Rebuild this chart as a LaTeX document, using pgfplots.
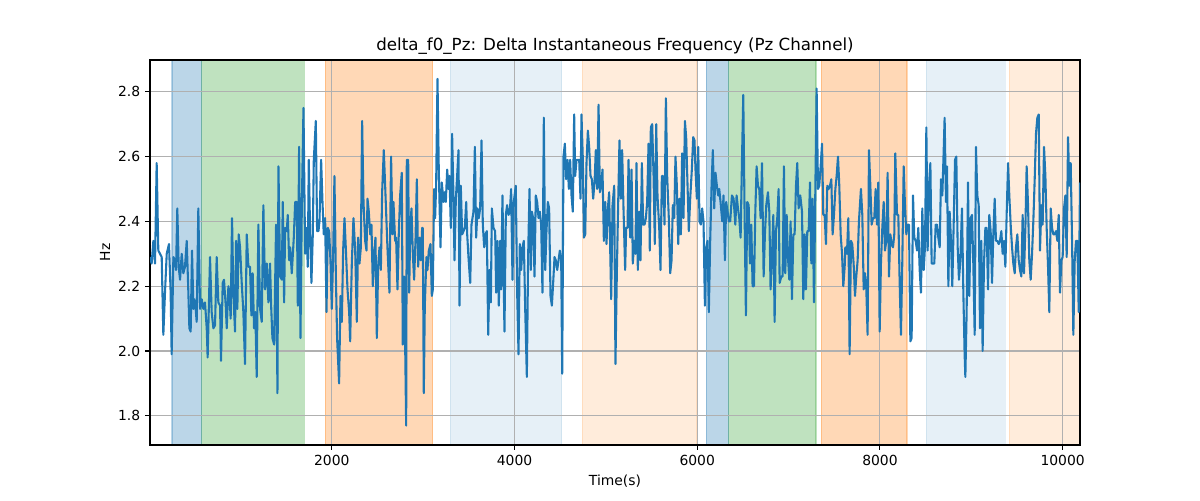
\documentclass[border=0pt]{standalone}
\usepackage{fontspec}
\setmainfont{DejaVu Sans}
\usepackage{pgfplots}
\pgfplotsset{compat=1.18}
\definecolor{tabblue}{HTML}{1F77B4}
\definecolor{tabgreen}{HTML}{2CA02C}
\definecolor{taborange}{HTML}{FF7F0E}
\definecolor{gridgray}{HTML}{B0B0B0}
\begin{document}
\begin{tikzpicture}
\begin{axis}[
  set layers,
  scale only axis,
  width=669.6pt, height=277.2pt,
  xmin=10, xmax=10190, ymin=1.71, ymax=2.898,
  xtick={2000,4000,6000,8000,10000},
  ytick={1.8,2.0,2.2,2.4,2.6,2.8},
  scaled x ticks=false, scaled y ticks=false,
  /pgf/number format/assume math mode=true,
  x tick label style={/pgf/number format/1000 sep={}, /pgf/number format/fixed, /pgf/number format/precision=0},
  y tick label style={/pgf/number format/fixed,/pgf/number format/fixed zerofill,/pgf/number format/precision=1},
  ticklabel style={font=\fontsize{10}{12}\selectfont},
  tick align=outside, tick pos=left,
  major tick length=3.5pt,
  tick style={black, line width=0.8pt},
  axis line style={line width=0.8pt},
  grid=major,
  major grid style={gridgray, line width=0.8pt},
  every axis title shift=0pt,
  title={delta\_f0\_Pz: Delta Instantaneous Frequency (Pz Channel)},
  title style={font=\fontsize{12}{14}\selectfont, at={(axis description cs:0.5,1.0364)}, anchor=center},
  xlabel={Time(s)},
  xlabel style={font=\fontsize{10}{12}\selectfont, at={(axis description cs:0.5,-0.0934)}, anchor=center},
  ylabel={Hz},
  ylabel style={font=\fontsize{10}{12}\selectfont, at={(axis description cs:-0.0484,0.5)}, anchor=center},
]
% shaded spans
\addplot[on layer=axis background, fill=tabblue, fill opacity=0.3, draw=tabblue, draw opacity=0.3, line width=0.8pt] coordinates {(251,1.71) (251,2.898) (576,2.898) (576,1.71)} -- cycle;
\addplot[on layer=axis background, fill=tabgreen, fill opacity=0.3, draw=tabgreen, draw opacity=0.3, line width=0.8pt] coordinates {(576,1.71) (576,2.898) (1700,2.898) (1700,1.71)} -- cycle;
\addplot[on layer=axis background, fill=taborange, fill opacity=0.3, draw=taborange, draw opacity=0.3, line width=0.8pt] coordinates {(1927,1.71) (1927,2.898) (3106,2.898) (3106,1.71)} -- cycle;
\addplot[on layer=axis background, fill=tabblue, fill opacity=0.11, draw=tabblue, draw opacity=0.11, line width=0.8pt] coordinates {(3295,1.71) (3295,2.898) (4518,2.898) (4518,1.71)} -- cycle;
\addplot[on layer=axis background, fill=taborange, fill opacity=0.15, draw=taborange, draw opacity=0.15, line width=0.8pt] coordinates {(4744,1.71) (4744,2.898) (5996,2.898) (5996,1.71)} -- cycle;
\addplot[on layer=axis background, fill=tabblue, fill opacity=0.3, draw=tabblue, draw opacity=0.3, line width=0.8pt] coordinates {(6099,1.71) (6099,2.898) (6343,2.898) (6343,1.71)} -- cycle;
\addplot[on layer=axis background, fill=tabgreen, fill opacity=0.3, draw=tabgreen, draw opacity=0.3, line width=0.8pt] coordinates {(6343,1.71) (6343,2.898) (7300,2.898) (7300,1.71)} -- cycle;
\addplot[on layer=axis background, fill=taborange, fill opacity=0.3, draw=taborange, draw opacity=0.3, line width=0.8pt] coordinates {(7358,1.71) (7358,2.898) (8296,2.898) (8296,1.71)} -- cycle;
\addplot[on layer=axis background, fill=tabblue, fill opacity=0.11, draw=tabblue, draw opacity=0.11, line width=0.8pt] coordinates {(8508,1.71) (8508,2.898) (9373,2.898) (9373,1.71)} -- cycle;
\addplot[on layer=axis background, fill=taborange, fill opacity=0.15, draw=taborange, draw opacity=0.15, line width=0.8pt] coordinates {(9417,1.71) (9417,2.898) (10190,2.898) (10190,1.71)} -- cycle;
% signal
\addplot[tabblue, line width=1.5pt, line join=round, no markers] table {
x y
10 2.29
28 2.27
47 2.34
65 2.27
83 2.58
101 2.31
120 2.30
138 2.29
156 2.05
174 2.18
193 2.30
218 2.33
236 2.18
247 1.99
266 2.29
284 2.28
295 2.25
309 2.44
324 2.26
339 2.22
357 2.30
375 2.24
393 2.26
412 2.34
430 2.18
441 2.07
455 2.06
470 2.31
485 2.13
495 2.16
510 2.13
521 2.09
539 2.44
558 2.13
576 2.16
594 2.13
612 2.15
631 2.07
641 1.98
667 2.29
685 2.12
704 2.07
722 2.08
740 2.29
758 2.15
777 2.14
787 1.97
806 2.21
820 2.22
839 2.14
850 2.07
868 2.20
879 2.18
893 2.10
908 2.41
923 2.17
941 2.06
952 2.34
966 2.13
981 2.36
996 2.32
1014 2.21
1032 2.12
1050 1.96
1069 2.36
1087 2.26
1105 2.26
1120 2.11
1134 2.24
1149 2.07
1163 2.12
1178 1.92
1196 2.39
1215 2.13
1233 2.09
1251 2.45
1269 2.19
1288 2.27
1306 2.15
1324 2.27
1336 2.14
1350 2.04
1369 2.02
1390 2.39
1405 1.87
1416 2.57
1434 2.23
1453 2.22
1463 2.46
1478 2.15
1489 2.38
1507 2.37
1518 2.42
1533 2.28
1544 2.32
1562 2.24
1584 2.35
1599 2.46
1617 2.46
1628 2.14
1642 2.63
1657 2.04
1672 2.45
1690 2.75
1708 2.30
1723 2.38
1737 2.26
1748 2.59
1763 2.36
1777 2.21
1792 2.36
1803 2.59
1825 2.71
1839 2.37
1854 2.37
1865 2.40
1883 2.59
1898 2.46
1912 2.36
1927 2.41
1942 2.12
1956 2.38
1971 2.37
1985 2.28
2000 2.13
2015 2.30
2029 2.54
2044 2.24
2058 2.04
2080 1.90
2095 2.17
2110 2.09
2124 2.31
2139 2.41
2153 2.32
2172 2.19
2190 2.12
2201 2.03
2219 2.27
2237 2.41
2256 2.31
2274 2.09
2288 2.35
2303 2.27
2318 2.32
2332 2.71
2347 2.46
2365 2.34
2380 2.31
2391 2.47
2405 2.43
2420 2.36
2434 2.39
2449 2.20
2464 2.30
2478 2.35
2493 2.04
2507 2.26
2522 2.32
2537 2.25
2551 2.49
2569 2.62
2584 2.51
2609 2.32
2631 2.18
2649 2.60
2664 2.36
2675 2.46
2693 2.34
2704 2.35
2719 2.19
2733 2.36
2748 2.48
2766 2.55
2777 2.02
2792 2.23
2803 2.02
2814 1.77
2821 2.59
2836 2.59
2847 2.18
2858 2.37
2872 2.44
2887 2.30
2901 2.22
2916 2.34
2931 2.53
2945 2.26
2960 2.35
2974 2.28
2989 2.38
2996 2.38
3007 1.87
3018 2.14
3036 2.29
3047 2.25
3062 2.31
3080 2.33
3095 2.17
3106 2.19
3120 2.50
3131 2.41
3142 2.51
3157 2.84
3171 2.56
3190 2.32
3204 2.52
3223 2.46
3233 2.49
3248 2.46
3263 2.56
3277 2.50
3288 2.54
3303 2.38
3317 2.67
3332 2.47
3343 2.28
3358 2.47
3372 2.54
3387 2.62
3398 2.14
3412 2.51
3427 2.36
3442 2.37
3456 2.38
3471 2.46
3482 2.36
3496 2.29
3515 2.21
3529 2.39
3551 2.43
3566 2.63
3580 2.35
3595 2.44
3609 2.41
3624 2.44
3639 2.65
3653 2.39
3668 2.32
3682 2.36
3697 2.37
3712 2.05
3726 2.25
3741 2.15
3752 2.44
3770 2.38
3788 2.37
3799 2.18
3814 2.34
3828 2.14
3843 2.34
3854 2.19
3868 2.48
3890 2.06
3905 2.42
3919 2.45
3934 2.42
3949 2.43
3963 2.50
3978 2.22
3992 2.46
4014 2.51
4029 2.18
4044 1.99
4058 2.33
4073 2.25
4087 2.32
4102 2.34
4117 2.13
4135 1.92
4149 2.29
4164 2.50
4179 2.25
4190 2.43
4204 2.41
4219 2.23
4233 2.48
4248 2.46
4263 2.41
4277 2.43
4292 2.39
4306 2.18
4321 2.72
4336 2.25
4350 2.37
4365 2.46
4379 2.44
4394 2.17
4409 2.14
4423 2.21
4438 2.29
4452 2.28
4467 2.25
4482 2.28
4496 2.31
4511 2.28
4522 1.93
4536 2.60
4551 2.64
4565 2.53
4580 2.59
4595 2.50
4609 2.59
4624 2.48
4638 2.43
4653 2.73
4664 2.54
4679 2.59
4693 2.59
4708 2.59
4722 2.47
4733 2.73
4748 2.59
4759 2.35
4774 2.36
4788 2.58
4803 2.68
4817 2.63
4832 2.54
4847 2.53
4861 2.47
4876 2.52
4890 2.62
4905 2.50
4920 2.76
4934 2.49
4949 2.51
4963 2.56
4978 2.34
4993 2.46
5007 2.33
5022 2.44
5036 2.49
5047 2.32
5058 2.16
5073 2.45
5091 2.51
5105 1.96
5120 2.24
5135 2.46
5149 2.65
5164 2.47
5178 2.62
5193 2.44
5211 2.25
5222 2.38
5237 2.38
5248 2.59
5266 2.35
5281 2.56
5295 2.27
5310 2.34
5324 2.30
5335 2.58
5350 2.25
5365 2.43
5379 2.28
5394 2.58
5408 2.39
5423 2.39
5438 2.41
5452 2.46
5467 2.64
5481 2.31
5492 2.69
5507 2.70
5522 2.54
5536 2.33
5551 2.70
5565 2.48
5584 2.38
5598 2.25
5613 2.54
5627 2.54
5642 2.39
5657 2.78
5671 2.54
5689 2.41
5704 2.24
5719 2.28
5733 2.45
5748 2.41
5762 2.60
5777 2.51
5792 2.33
5806 2.47
5821 2.36
5835 2.61
5850 2.41
5865 2.71
5879 2.66
5894 2.51
5908 2.37
5923 2.47
5941 2.56
5956 2.66
5970 2.65
5981 2.56
5996 2.47
6011 2.63
6025 2.40
6040 2.39
6054 2.44
6069 2.40
6084 2.14
6098 2.32
6113 2.34
6127 2.12
6142 2.34
6157 2.51
6171 2.62
6186 2.44
6200 2.55
6215 2.51
6230 2.48
6241 2.50
6255 2.46
6274 2.40
6288 2.48
6303 2.28
6317 2.46
6332 2.43
6346 2.40
6361 2.40
6380 2.48
6398 2.47
6417 2.39
6431 2.48
6446 2.44
6460 2.41
6475 2.35
6490 2.59
6504 2.79
6519 2.41
6533 2.11
6548 2.46
6563 2.45
6577 2.27
6592 2.39
6606 2.20
6621 2.20
6636 2.43
6650 2.57
6665 2.51
6679 2.50
6694 2.41
6709 2.58
6727 2.23
6741 2.36
6756 2.45
6774 2.49
6789 2.43
6803 2.19
6818 2.29
6833 2.42
6847 2.09
6862 2.37
6876 2.41
6891 2.50
6902 2.21
6920 2.23
6935 2.23
6949 2.57
6964 2.24
6979 2.42
6993 2.29
7008 2.22
7022 2.40
7037 2.16
7052 2.36
7066 2.36
7081 2.51
7095 2.58
7110 2.44
7128 2.48
7147 2.43
7161 2.16
7176 2.36
7190 2.19
7205 2.37
7220 2.37
7234 2.52
7249 2.27
7263 2.47
7278 2.15
7293 2.50
7307 2.81
7322 2.50
7336 2.51
7351 2.57
7366 2.64
7380 2.42
7395 2.42
7409 2.33
7424 2.51
7439 2.50
7453 2.51
7468 2.53
7482 2.36
7497 2.42
7512 2.50
7526 2.54
7541 2.60
7555 2.51
7570 2.36
7585 2.30
7599 2.20
7614 2.26
7621 2.32
7639 2.30
7654 2.41
7668 1.99
7683 2.34
7697 2.33
7712 2.27
7727 2.17
7741 2.23
7756 2.28
7770 2.40
7792 2.50
7807 2.42
7822 2.19
7836 2.24
7851 2.19
7865 2.05
7880 2.62
7895 2.51
7909 2.39
7924 2.41
7938 2.41
7953 2.50
7968 2.39
7982 2.52
7997 2.06
8011 2.27
8026 2.38
8041 2.46
8055 2.31
8070 2.34
8084 2.55
8099 2.23
8114 2.36
8128 2.33
8143 2.32
8157 2.36
8168 2.61
8187 2.42
8201 2.42
8216 2.21
8230 2.05
8245 2.28
8260 2.57
8274 2.45
8289 2.36
8303 2.39
8318 2.39
8333 2.03
8347 2.04
8362 2.48
8376 2.35
8391 2.34
8406 2.31
8420 2.38
8435 2.25
8449 2.18
8464 2.44
8479 2.25
8493 2.32
8508 2.69
8522 2.31
8537 2.51
8552 2.58
8566 2.27
8581 2.27
8595 2.27
8610 2.39
8625 2.39
8639 2.35
8654 2.32
8668 2.53
8683 2.48
8698 2.62
8708 2.72
8723 2.46
8734 2.57
8749 2.20
8763 2.43
8778 2.34
8792 2.20
8807 2.39
8822 2.59
8836 2.60
8851 2.32
8865 2.22
8880 2.28
8898 2.44
8913 2.18
8927 1.99
8935 1.92
8949 2.12
8964 2.52
8978 2.17
8993 2.41
9008 2.42
9022 2.27
9037 2.05
9051 2.63
9066 2.48
9081 2.45
9095 2.07
9110 2.34
9124 2.00
9139 2.27
9154 2.38
9168 2.38
9183 2.19
9197 2.42
9212 2.37
9227 2.21
9241 2.36
9256 2.47
9270 2.34
9285 2.34
9300 2.33
9314 2.34
9329 2.37
9343 2.30
9358 2.34
9373 2.26
9387 2.42
9402 2.58
9416 2.48
9431 2.39
9446 2.32
9460 2.27
9475 2.24
9489 2.32
9504 2.36
9519 2.28
9533 2.25
9548 2.23
9562 2.42
9577 2.24
9592 2.38
9606 2.57
9621 2.45
9635 2.28
9650 2.22
9665 2.30
9679 2.40
9694 2.53
9708 2.67
9723 2.72
9738 2.73
9752 2.31
9767 2.45
9781 2.39
9796 2.63
9811 2.54
9825 2.38
9840 2.26
9854 2.12
9869 2.44
9884 2.38
9898 2.36
9913 2.36
9927 2.37
9942 2.34
9957 2.42
9971 2.18
9986 2.28
10000 2.29
10015 2.44
10030 2.48
10044 2.29
10059 2.66
10073 2.51
10088 2.58
10103 2.34
10117 2.05
10132 2.28
10146 2.34
10161 2.34
10176 2.12
10190 2.52
};
\end{axis}
\path (-108pt,-39.6pt) rectangle (756pt,320.4pt);
\end{tikzpicture}
\end{document}
